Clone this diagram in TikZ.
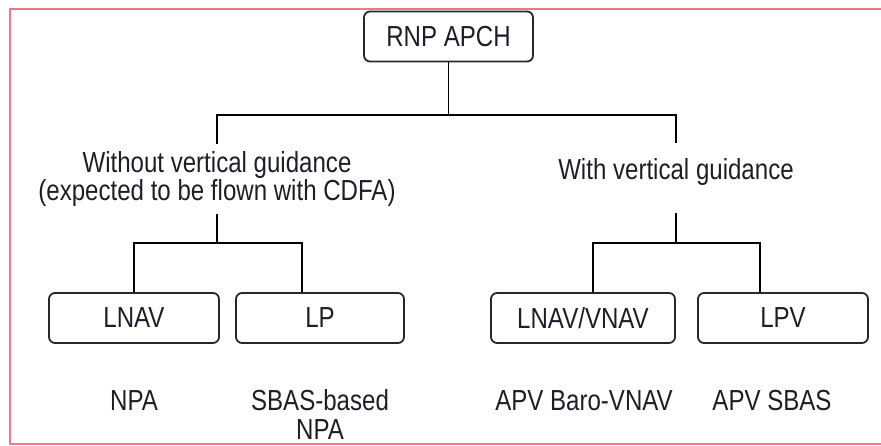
\documentclass[tikz,border=0pt]{standalone}
\usepackage{fontspec}
\setmainfont[FakeStretch=0.83]{Liberation Sans}
\definecolor{framepink}{RGB}{236,120,142}
\definecolor{boxline}{RGB}{40,40,40}
\definecolor{txt}{RGB}{30,30,40}
\begin{document}
\begin{tikzpicture}[x=1pt,y=-1pt,
  every node/.style={font=\fontsize{29}{27}\selectfont, text=txt},
  boxnode/.style={draw=boxline, line width=1.8pt, rounded corners=6pt, minimum height=50pt, inner sep=0pt},
  lbl/.style={inner sep=0pt, align=center},
  conn/.style={draw=black, line width=1.8pt}]
\useasboundingbox (0,0) rectangle (881,446);
\draw[framepink, line width=2pt] (881,9) -- (10,9) -- (10,444) -- (881,444);

\node[boxnode, minimum width=169pt] (root) at (448.5,36.5) {RNP APCH};

\node[lbl, minimum height=70pt] (wo) at (217,179) {Without vertical guidance\\(expected to be flown with CDFA)};
\node[lbl, minimum height=70pt, text height=20pt, text depth=16pt] (wi) at (676,178) {With vertical guidance};

\node[boxnode, minimum width=170pt] (lnav) at (134,318) {LNAV};
\node[boxnode, minimum width=168pt] (lp) at (320,318) {LP};
\node[boxnode, minimum width=184pt] (lnvn) at (583,318) {LNAV/VNAV};
\node[boxnode, minimum width=170pt] (lpv) at (783,318) {LPV};

\node[lbl] (npa) at (134,401) {NPA};
\node[lbl, font=\fontsize{29}{29}\selectfont] (sbas) at (320,414) {SBAS-based\\NPA};
\node[lbl] (baro) at (584,401) {APV Baro-VNAV};
\node[lbl] (apvs) at (772,401) {APV SBAS};

\coordinate (jt) at (448.5,115);
\coordinate (jw) at (217,243);
\coordinate (jr) at (676,243);

\draw[conn] (root.south) -- (jt);
\draw[conn] (wo.north) |- (jt) -| (wi.north);
\draw[conn] (wo.south) -- (jw);
\draw[conn] (lnav.north) |- (jw) -| ([xshift=-18pt]lp.north);
\draw[conn] (wi.south) -- (jr);
\draw[conn] ([xshift=10pt]lnvn.north) |- (jr) -| ([xshift=-23pt]lpv.north);
\end{tikzpicture}
\end{document}
